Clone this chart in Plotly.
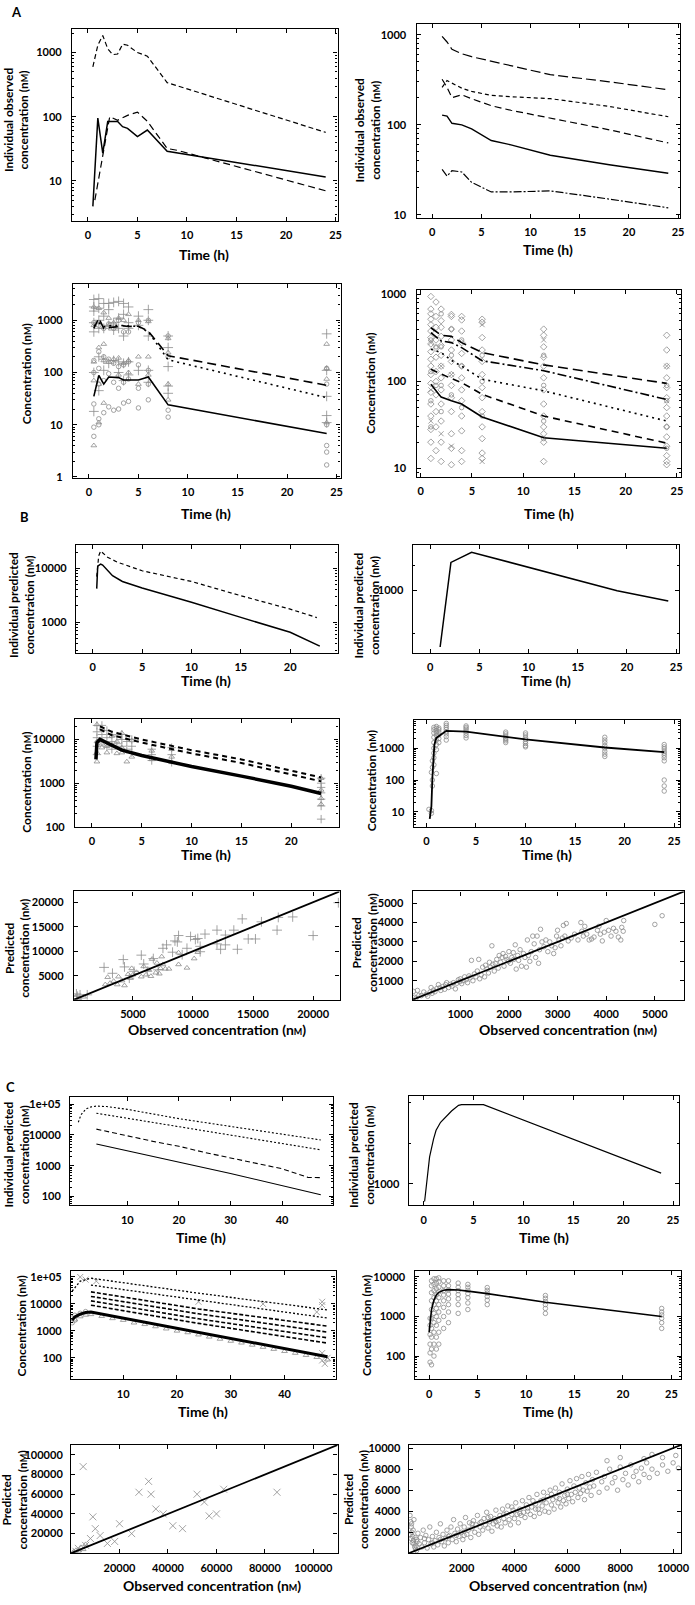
import plotly.graph_objects as go

# ---------------- data ----------------
# A, top left: individual observed profiles
a1_t_top = [0.5, 1.0, 1.5, 2.0, 2.5, 3.0, 3.5, 4.0, 5.0, 6.0, 8.0, 24.0]
a1_c_top = [600, 1300, 1850, 1150, 930, 950, 1350, 1300, 1000, 880, 340, 57]
a1_t_solid = [0.5, 1.0, 1.5, 2.0, 2.5, 3.0, 3.5, 4.0, 5.0, 6.0, 8.0, 24.0]
a1_c_solid = [4, 95, 27, 84, 84, 84, 70, 66, 49, 62, 29, 11.5]
a1_t_dash = [0.7, 2.2, 3.0, 4.0, 5.0, 6.0, 8.0, 9.0, 24.0]
a1_c_dash = [5, 100, 88, 105, 118, 85, 32, 30, 7]

# A, top right
a2_t = [1, 1.5, 2, 3, 4, 6, 8, 12, 18, 24]
a2_ldash = [960, 830, 690, 615, 570, 510, 455, 360, 300, 245]
a2_sdash = [260, 310, 290, 255, 235, 212, 205, 195, 160, 123]
a2_dash = [320, 260, 200, 215, 195, 163, 145, 118, 88, 63]
a2_solid = [128, 125, 104, 100, 90, 67, 60, 46, 36, 29]
a2_ddot = [32, 27, 31, 30, 23, 18, 18, 18.5, 15, 12]

# A, bottom left: observed points + predictions
a3_times = [0.5, 1, 1.5, 2, 2.5, 3, 3.5, 4, 5, 6, 8, 24]
a3_plus = [[2500, 1800, 1500, 900, 600, 100, 18], [2600, 1700, 1000, 700, 200, 45],
           [2100, 1200, 700, 180, 110], [2100, 1600, 800, 150], [2200, 900, 650, 170],
           [2300, 1100, 700, 160, 100], [2100, 1300, 500, 150, 70], [1800, 900, 700, 160, 90],
           [1200, 800, 110], [1600, 1000, 500, 110, 65], [500, 300, 130, 55, 40],
           [550, 110, 35, 15, 11]]
a3_tri = [[1800, 800, 160, 70, 4], [1700, 300, 60, 11], [1400, 350, 170, 26], [1100, 800, 160],
          [900, 180], [1100, 190, 90], [1000, 150], [1300, 170, 100], [1000, 200, 60],
          [950, 200, 90], [450, 240, 60, 30], [350, 120, 75, 11]]
a3_circ = [[900, 170, 100, 25, 9, 6], [800, 250, 120, 60, 13, 10], [700, 200, 70, 17],
           [850, 180, 95, 22], [700, 150, 65, 19], [1000, 130, 50, 20], [600, 140, 65, 26],
           [600, 160, 75, 28], [900, 140, 50, 21], [1000, 110, 60, 30], [500, 200, 19, 14],
           [120, 60, 10, 4, 3, 1.7]]
a3_t = [0.5, 1, 1.5, 2, 3, 3.5, 4, 5, 6, 8, 24]
a3_solid = [35, 88, 60, 82, 80, 72, 72, 72, 82, 24, 6.8]
a3_ldash = [700, 1100, 700, 720, 780, 780, 760, 770, 620, 210, 57]
a3_dot = [780, 900, 750, 780, 800, 790, 780, 760, 600, 175, 33]

# A, bottom right
a4_times = [1, 1.5, 2, 3, 4, 6, 12, 24]
a4_diam = [[950, 680, 600, 520, 450, 380, 320, 270, 220, 180, 150, 120, 95, 75, 55, 40, 28, 20, 13],
           [820, 560, 420, 300, 240, 190, 130, 100, 70, 45, 30, 16],
           [680, 500, 420, 330, 260, 200, 150, 110, 80, 55, 35, 20, 12],
           [590, 560, 400, 300, 230, 170, 120, 90, 65, 45, 25, 17, 11],
           [560, 510, 380, 280, 210, 150, 110, 80, 60, 40, 27, 16, 12],
           [520, 480, 320, 230, 170, 120, 85, 65, 45, 30, 22, 15, 13],
           [400, 340, 250, 190, 150, 110, 80, 55, 40, 30, 25, 20, 12],
           [340, 230, 150, 110, 85, 65, 50, 40, 30, 23, 18, 14, 12, 11]]
a4_circ = [[300, 130, 60, 30], [250, 90], [600, 250, 90, 45], [400, 200, 70], [300, 150, 50],
           [200, 100, 40], [200, 90, 35, 22], [90, 60, 30, 17]]
a4_x = [[35, 80, 280], [], [25, 150], [18, 120], [], [450, 12], [300], [150, 60]]
a4_t = [1, 2, 3, 4, 6, 12, 24]
a4_ldash = [415, 340, 330, 280, 215, 155, 95]
a4_ddot = [365, 292, 280, 245, 173, 133, 62]
a4_dot = [235, 215, 175, 150, 106, 78, 35]
a4_dash = [138, 121, 108, 97, 71, 40, 19.5]
a4_solid = [93, 66, 60, 55, 39, 22.5, 17]

# B
b1_t_solid = [0.4, 0.45, 0.5, 0.8, 1.0, 2.0, 3.0, 5.0, 10.0, 15.0, 20.0, 23.0]
b1_c_solid = [4200, 9000, 11000, 12000, 11500, 7300, 5700, 4300, 2350, 1230, 650, 360]
b1_t_dash = [0.4, 0.6, 0.8, 1.5, 2.5, 5.0, 10.0, 15.0, 20.0, 22.7]
b1_c_dash = [7000, 17000, 21000, 16000, 13000, 9000, 5700, 3100, 1750, 1220]

b2_t = [1.0, 2.1, 4.2, 19.0, 24.2]
b2_c = [205, 2180, 2900, 990, 740]

b3_times = [0.5, 1, 1.5, 2, 2.5, 3, 3.5, 4, 6, 8, 23]
b3_tri = [[22000, 9000, 5000, 3100], [18000, 8000, 6500], [5000, 7000], [12000, 7500],
          [4800, 9000], [14000, 6500, 5000], [3100], [4000, 9500], [3500, 5500],
          [3000, 4000, 6000], [700, 450, 330, 1300]]
b3_plus = [[21000, 15000, 11000, 7000, 4500], [21000, 13000, 9000], [16000, 11000, 7000],
           [13000, 9000, 6000], [12000, 8000], [13000, 10000, 7000], [9000, 6000],
           [10000, 7000, 5000], [6000, 4500, 3300], [6500, 4500, 3000],
           [1300, 1000, 800, 600, 430, 300, 150]]
b3_t_solid = [0.4, 0.5, 0.8, 1, 2, 3, 5, 8, 10, 15, 20, 23]
b3_c_solid = [3500, 8500, 10000, 9500, 7000, 5700, 4300, 3000, 2400, 1450, 850, 580]
b3_t_dash = [0.8, 2, 5, 10, 15, 20, 23]
b3_c_dash1 = [20000, 15000, 10000, 5700, 3500, 1900, 1350]
b3_c_dash2 = [17000, 12500, 8500, 4800, 2900, 1600, 1100]

b4_times = [0.25, 0.5, 0.6, 0.75, 1, 1.25, 2, 4, 8, 10, 18, 24]
b4_circ = [[12], [175, 11, 9], [100, 65, 250, 400],
           [4500, 3800, 3000, 2200, 1500, 1000, 700, 500, 300],
           [4800, 4200, 3500, 3000, 2500, 1800, 1300, 900, 160],
           [4300, 3800, 3200, 2600, 2000, 1500],
           [6000, 5200, 4500, 3900, 3300, 2800, 2300, 1800],
           [5000, 4500, 4000, 3500, 3000, 2500, 2100],
           [3200, 2800, 2400, 2100, 1900, 1700, 1500],
           [3000, 2600, 2200, 1900, 1600, 1400, 1200, 1100],
           [2200, 1800, 1500, 1200, 1000, 800, 650, 550],
           [1300, 1100, 950, 800, 700, 600, 500, 400, 100, 65, 45]]
b4_t = [0.33, 0.5, 0.6, 0.7, 0.8, 1, 1.5, 2, 4, 8, 10, 18, 24]
b4_c = [6, 15, 120, 500, 1300, 2100, 2700, 3500, 3300, 2300, 1900, 1050, 750]

b5_plus_obs = [2600, 4200, 4300, 5700, 5900, 6700, 7100, 7500, 7800, 8300,
               8500, 8700, 8800, 9500, 9800, 10200, 10400, 10600, 11000, 12000,
               12000, 12300, 12700, 12700, 13400, 13700, 14100, 14600, 15200, 15700,
               17000, 17100, 18300, 20000, 22100, 9100, 10600, 3300, 4700, 5100,
               6200, 400, 600, 300, 1200]
b5_plus_pred = [6700, 8300, 6800, 9200, 7400, 8500, 6200, 10600, 11300, 9800,
                12100, 11900, 13200, 10600, 13000, 12400, 12600, 11000, 13500, 14300,
                11500, 10400, 13300, 11300, 14300, 10400, 16600, 12500, 12500, 16000,
                14300, 16900, 17000, 13200, 19900, 9300, 9900, 5500, 4500, 5900,
                5900, 800, 1100, 1300, 1100]
b5_tri_obs = [2700, 2900, 3100, 3400, 3700, 3800, 4100, 4300, 4600, 4800,
              4900, 5000, 5300, 5700, 5900, 6100, 6300, 6500, 6600, 6900,
              7000, 7200, 7300, 7500, 7700, 7400, 8000, 8800, 8800, 9500,
              10100, 10400, 200, 500, 900]
b5_tri_pred = [3200, 4700, 3500, 3900, 3200, 4800, 4000, 3000, 5300, 4500,
               6500, 5200, 5700, 4800, 6900, 5200, 6300, 4900, 8400, 5600,
               7600, 5400, 6500, 7300, 6400, 8900, 6400, 7300, 9700, 6600,
               8500, 9800, 600, 400, 700]

b6_obs = [40, 60, 90, 120, 150, 200, 250, 300, 330, 380,
          400, 420, 450, 480, 520, 550, 580, 600, 640, 680,
          700, 720, 760, 800, 830, 860, 900, 930, 960, 990,
          1000, 1030, 1060, 1090, 1120, 1150, 1180, 1200, 1230, 1260,
          1290, 1320, 1350, 1380, 1400, 1430, 1460, 1500, 1520, 1550,
          1580, 1600, 1620, 1650, 1670, 1700, 1720, 1750, 1780, 1800,
          1830, 1860, 1880, 1900, 1930, 1960, 1990, 2000, 2030, 2060,
          2090, 2100, 2130, 2150, 2180, 2200, 2230, 2260, 2300, 2330,
          2360, 2380, 2400, 2430, 2460, 2490, 2520, 2550, 2580, 2610,
          2630, 2650, 2680, 2720, 2760, 2800, 2840, 2880, 2920, 2950,
          2980, 3000, 3030, 3070, 3100, 3120, 3150, 3180, 3220, 3280,
          3350, 3420, 3480, 3500, 3530, 3560, 3600, 3650, 3700, 3750,
          3820, 3850, 3880, 3920, 3960, 4000, 4050, 4100, 4150, 4200,
          4250, 4300, 4320, 4350, 4360, 5000, 5150]
b6_pred = [450, 150, 100, 500, 250, 230, 420, 300, 200, 420,
           650, 350, 520, 430, 600, 800, 640, 500, 700, 560,
           800, 900, 650, 820, 720, 900, 580, 870, 1050, 950,
           1100, 850, 1000, 1200, 1050, 900, 1250, 1150, 2050, 1000,
           1350, 1200, 1500, 2100, 1100, 1300, 1700, 1200, 1800, 1600,
           1400, 1950, 1700, 2800, 1850, 1500, 1900, 2100, 1650, 2300,
           1950, 2200, 2400, 1750, 2250, 2100, 2000, 2500, 1900, 2200,
           2450, 2100, 2850, 1600, 2300, 2050, 2600, 1750, 2400, 2200,
           1700, 3100, 2300, 2000, 2500, 3300, 2900, 2200, 3300, 1900,
           2600, 3650, 3000, 2750, 3100, 2500, 3000, 2800, 2400, 2700,
           3300, 3600, 3100, 2800, 3200, 3850, 3300, 3950, 3050, 3200,
           3400, 3100, 4000, 3550, 3300, 3800, 3400, 3100, 3150, 3250,
           3600, 3800, 3400, 3050, 3500, 4100, 3600, 3300, 3700, 3550,
           3250, 3100, 3750, 3550, 4100, 3900, 4350]

# C
c1_t_dot1 = [0.5, 1, 2, 3, 4, 6, 10, 15, 20, 30, 40, 47.5]
c1_c_dot1 = [26000, 45000, 70000, 82000, 87000, 84000, 68000, 47000, 34000, 19000, 10700, 6900]
c1_t_dot2 = [4, 10, 15, 20, 30, 40, 47.5]
c1_c_dot2 = [51000, 35000, 26000, 19000, 10000, 5400, 3300]
c1_t_dash = [4, 10, 15, 20, 25, 30, 35, 40, 45, 47.5]
c1_c_dash = [15500, 9300, 6200, 4300, 2700, 1800, 1200, 800, 420, 410]
c1_t_solid = [4, 20, 30, 47.5]
c1_c_solid = [5100, 1300, 560, 115]

c2_t = [0.1, 0.3, 0.6, 1.0, 1.25, 1.7, 2.2, 2.8, 3.5, 3.8, 6.0, 23.8]
c2_c = [740, 1050, 1580, 2150, 2490, 2850, 3100, 3450, 3800, 3850, 3850, 1200]

c3_t_solid = [0.5, 1, 2, 3, 4, 6, 8, 12, 16, 20, 24, 30, 36, 42, 48]
c3_c_solid = [2500, 3300, 4200, 4800, 5000, 4200, 3500, 2470, 1740, 1220, 860, 510, 300, 177, 110]
c3_t_tri = [1, 2, 3, 4, 6, 8, 10, 12, 14, 16, 18, 20, 22, 24, 26, 28, 30, 32, 34, 36, 38, 40, 42, 44, 46, 48]
c3_c_tri = [2600, 3400, 3900, 4100, 3500, 2900, 2500, 2000, 1750, 1450, 1200, 1000, 870, 720,
            600, 500, 420, 360, 300, 250, 210, 175, 150, 125, 105, 85]
c3_t_dash = [4, 24, 48]
c3_c_dash = [[9000, 1900, 350], [13000, 2800, 550], [19000, 4300, 900], [28000, 6500, 1500]]
c3_t_dot1 = [0.5, 2, 4, 24, 48]
c3_c_dot1 = [30000, 70000, 90000, 25000, 6000]
c3_t_dot2 = [4, 24, 48]
c3_c_dot2 = [50000, 14000, 3000]
c3_x_t = [2, 3, 5, 24, 36, 47, 47, 46, 47, 47.5, 48, 47]
c3_x_c = [100000, 80000, 70000, 12000, 10000, 12000, 9000, 5000, 80, 60, 100, 150]
c3_circ_t = [0.5, 0.5, 1, 1, 2, 3]
c3_circ_c = [3000, 2000, 3800, 2500, 4500, 5200]

c4_times = [0.1, 0.25, 0.5, 0.75, 1, 1.5, 2, 3, 4, 6, 12, 24]
c4_circ = [[70, 120, 200, 350, 600, 900],
           [60, 150, 300, 500, 900, 1500, 2500, 4000, 6000, 8000],
           [100, 200, 400, 700, 1200, 2000, 3000, 4500, 6500, 9000],
           [150, 300, 600, 1000, 1600, 2500, 3500, 5000, 7000, 9000],
           [200, 400, 800, 1300, 2000, 3000, 4200, 5500, 7500, 9500],
           [500, 1000, 1700, 2500, 3500, 4500, 6000, 8000],
           [700, 1300, 2000, 2800, 3700, 4700, 6000, 8000],
           [1200, 2000, 2800, 3600, 4500, 5500, 7000],
           [1500, 2200, 3000, 3800, 4600, 5500, 6500],
           [2000, 2600, 3200, 3900, 4600, 5400],
           [1200, 1600, 2000, 2400, 2900, 3400],
           [500, 700, 900, 1100, 1300, 1600]]
c4_t = [0, 0.25, 0.5, 0.75, 1, 1.5, 2, 3, 4, 6, 12, 24]
c4_c = [400, 1500, 2600, 3500, 4100, 4600, 4800, 4700, 4400, 3800, 2300, 1000]

c5_x_obs = [5000, 18000, 20000, 25000, 28000, 32000, 33000, 35000, 38000, 42000,
            46000, 52000, 55000, 57000, 60000, 63000, 85000, 10000, 12000, 15000,
            8000, 6000, 3000, 2000, 9000]
c5_x_pred = [88000, 12000, 30000, 20000, 62000, 73000, 60000, 45000, 40000, 28000,
             25000, 60000, 52000, 38000, 40000, 65000, 62000, 25000, 18000, 10000,
             15000, 8000, 5000, 2000, 37000]
c5_tri_obs = [1000, 2000, 3000, 4000, 5000, 6000]
c5_tri_pred = [1500, 3000, 2500, 6000, 4000, 9000]

c6_obs = [50, 80, 100, 120, 150, 180, 200, 230, 260, 300,
          60, 90, 110, 140, 170, 200, 250, 280, 320, 350,
          400, 450, 500, 550, 600, 650, 700, 750, 800, 850,
          900, 950, 1000, 1050, 1100, 1150, 1200, 1250, 1300, 1350,
          1400, 1450, 1500, 1550, 1600, 1650, 1700, 1750, 1800, 1850,
          1900, 1950, 2000, 2050, 2100, 2150, 2200, 2250, 2300, 2350,
          2400, 2450, 2500, 2550, 2600, 2650, 2700, 2750, 2800, 2850,
          2900, 2950, 3000, 3050, 3100, 3150, 3200, 3250, 3300, 3350,
          3400, 3450, 3500, 3550, 3600, 3650, 3700, 3750, 3800, 3850,
          3900, 3950, 4000, 4050, 4100, 4150, 4200, 4250, 4300, 4350,
          4400, 4450, 4500, 4550, 4600, 4650, 4700, 4750, 4800, 4850,
          4900, 4950, 5000, 5050, 5100, 5150, 5200, 5250, 5300, 5350,
          5400, 5450, 5500, 5550, 5600, 5650, 5700, 5750, 5800, 5850,
          5900, 5950, 6000, 6050, 6100, 6150, 6200, 6250, 6300, 6350,
          6400, 6450, 6500, 6550, 6600, 6650, 6700, 6750, 6800, 6850,
          6900, 6950, 7000, 7100, 7200, 7300, 7400, 7500, 7600, 7700,
          7800, 7900, 8000, 8100, 8200, 8300, 8400, 8500, 8600, 8700,
          8800, 8900, 9000, 9100, 9200, 9400, 9600, 9800, 10000, 10200,
          300, 600, 900, 1200, 1500, 1800, 2100, 2400, 2700, 3000,
          3300, 3600, 3900, 4200, 4500, 4800, 5100, 5400, 5700, 6000,
          8900, 9200, 9600, 10100, 7500, 8000]
c6_pred = [3600, 3000, 2500, 2000, 1600, 1200, 900, 600, 400, 250,
           1800, 1400, 2800, 1000, 2200, 3200, 1500, 700, 1100, 1900,
           900, 1500, 600, 2200, 1000, 1700, 500, 1300, 2500, 900,
           1600, 600, 1200, 2000, 800, 1500, 2800, 1100, 1800, 700,
           1400, 2200, 1000, 1700, 2500, 1300, 3200, 1900, 1100, 2300,
           1600, 2800, 2000, 1300, 2500, 3400, 1800, 2200, 2900, 1500,
           2400, 3100, 2000, 2700, 3600, 1800, 2500, 3000, 2200, 3300,
           2700, 3900, 2400, 3000, 3500, 2100, 2800, 3300, 4100, 2600,
           3100, 3600, 2500, 4200, 3300, 2900, 3800, 4500, 3200, 2700,
           3700, 4100, 3300, 4800, 3700, 2900, 4200, 3600, 5000, 3900,
           3400, 4600, 4000, 5300, 3700, 4400, 5000, 3500, 4700, 5600,
           4200, 3800, 5000, 4500, 5800, 4000, 4800, 5400, 3900, 6000,
           4600, 5100, 4200, 6200, 5300, 4800, 5800, 4400, 6600, 5000,
           5500, 4700, 6100, 5200, 6900, 5600, 4900, 6400, 5800, 7100,
           5300, 6200, 5700, 7300, 6000, 5100, 6700, 5900, 7500, 6300,
           5500, 7000, 6400, 7700, 5800, 6800, 7300, 6200, 8000, 6700,
           7200, 6000, 8200, 7000, 7600, 6500, 8400, 7300, 7800, 6800,
           8100, 7500, 8600, 7200, 8000, 7600, 8400, 7800, 8600, 8100,
           1300, 1400, 1000, 1300, 1600, 1700, 1700, 2800, 2900, 3400,
           3000, 3700, 4400, 3800, 4300, 4200, 5100, 5600, 5200, 5600,
           9000, 9400, 9100, 9300, 8800, 9100]

identity_b5 = [0, 23000]
identity_b6 = [0, 6000]
identity_c5 = [0, 115000]
identity_c6 = [0, 11000]

# ---------------- figure ----------------
W, H = 695, 1605
FONT = "Lato"
GRAY = "#8c8c8c"
NM = "n<span style='font-size:9px'>M</span>"

fig = go.Figure()
notes = []


def sfx(i):
    return "" if i == 1 else str(i)


def minor_log(lo, hi):
    out = []
    for d in range(int(lo) - 1, int(hi) + 2):
        for k in range(2, 10):
            out.append(k * 10 ** d)
    return out


def label(v):
    return str(int(v)) if v >= 1 else str(v)


def panel(i, box, xr, yr, xt, yt, ylog=True, ytext=None, yminor=None, ystand=7):
    l, t, r, b = box
    tickfont = dict(family=FONT, size=11, color="black", weight="bold")
    common = dict(showline=True, linecolor="black", linewidth=1.2, mirror="allticks",
                  ticks="inside", ticklen=4, tickwidth=1, tickcolor="black",
                  showgrid=False, zeroline=False, tickfont=tickfont, tickmode="array",
                  ticklabeloverflow="allow")
    xa = dict(common, domain=[l / W, r / W], range=xr, tickvals=xt,
              ticktext=[label(v) for v in xt], anchor="y" + sfx(i), ticklabelstandoff=4)
    ya = dict(common, domain=[1 - b / H, 1 - t / H], range=yr, tickvals=yt,
              ticktext=ytext if ytext is not None else [label(v) for v in yt],
              anchor="x" + sfx(i), ticklabelstandoff=ystand)
    if ylog:
        ya["type"] = "log"
        ya["minor"] = dict(tickmode="array",
                           tickvals=yminor if yminor is not None else minor_log(*yr),
                           ticks="inside", ticklen=2, tickcolor="black")
    fig.update_layout(**{"xaxis" + sfx(i): xa, "yaxis" + sfx(i): ya})


def line(i, x, y, dash="solid", width=1.4):
    fig.add_trace(go.Scatter(x=x, y=y, mode="lines", xaxis="x" + sfx(i), yaxis="y" + sfx(i),
                             line=dict(color="black", width=width, dash=dash), hoverinfo="skip"))


def pts(i, x, y, symbol, size=5, color=GRAY):
    fig.add_trace(go.Scatter(x=x, y=y, mode="markers", xaxis="x" + sfx(i), yaxis="y" + sfx(i),
                             marker=dict(symbol=symbol, size=size, color=color,
                                         line=dict(color=color, width=0.8)), hoverinfo="skip"))


def flat(times, groups):
    xs, ys = [], []
    for tt, g in zip(times, groups):
        xs += [tt] * len(g)
        ys += list(g)
    return xs, ys


def ytitle(text, x, y):
    notes.append(dict(text=text, x=x / W, y=1 - y / H, xref="paper", yref="paper",
                      xanchor="center", yanchor="middle", showarrow=False, textangle=-90,
                      font=dict(family=FONT, size=12, color="black", weight="bold")))


def xtitle(text, x, y):
    notes.append(dict(text=text, x=x / W, y=1 - y / H, xref="paper", yref="paper",
                      xanchor="center", yanchor="middle", showarrow=False,
                      font=dict(family=FONT, size=14, color="black", weight="bold")))


t25 = [0, 5, 10, 15, 20, 25]
t20 = [0, 5, 10, 15, 20]
t40 = [10, 20, 30, 40]

# A1
panel(1, (73, 25, 342, 218), [-1.6, 25.2], [0.38, 3.37], t25, [10, 100, 1000])
line(1, a1_t_top, a1_c_top, "5px,3px", 1.2)
line(1, a1_t_dash, a1_c_dash, "7px,4px", 1.2)
line(1, a1_t_solid, a1_c_solid, "solid", 1.5)
# A2
panel(2, (422, 20, 689, 215), [-1.6, 25.2], [0.97, 3.12], t25, [10, 100, 1000])
line(2, a2_t, a2_ldash, "10px,4px", 1.2)
line(2, a2_t, a2_sdash, "4px,3px", 1.2)
line(2, a2_t, a2_dash, "7px,4px", 1.2)
line(2, a2_t, a2_solid, "solid", 1.4)
line(2, a2_t, a2_ddot, "8px,2px,2px,2px", 1.2)
# A3
panel(3, (74, 282, 345, 477), [-1.6, 25.4], [-0.02, 3.69], t25, [1, 10, 100, 1000])
x, y = flat(a3_times, a3_plus)
pts(3, x, y, "cross-thin-open", 7)
x, y = flat(a3_times, a3_tri)
pts(3, x, y, "triangle-up-open", 5)
x, y = flat(a3_times, a3_circ)
pts(3, x, y, "circle-open", 4.5)
line(3, a3_t, a3_solid, "solid", 1.6)
line(3, a3_t, a3_ldash, "9px,5px", 1.6)
line(3, a3_t, a3_dot, "2px,4px", 1.6)
# A4
panel(4, (422, 288, 690, 476), [-0.4, 25.4], [0.9, 3.05], t25, [10, 100, 1000])
x, y = flat(a4_times, a4_diam)
pts(4, x, y, "diamond-open", 5)
x, y = flat(a4_times, a4_circ)
pts(4, x, y, "circle-open", 4.5)
x, y = flat(a4_times, a4_x)
pts(4, x, y, "x-thin-open", 5)
line(4, a4_t, a4_ldash, "10px,5px", 1.6)
line(4, a4_t, a4_ddot, "9px,3px,2px,3px", 1.6)
line(4, a4_t, a4_dot, "2px,4px", 1.6)
line(4, a4_t, a4_dash, "7px,5px", 1.6)
line(4, a4_t, a4_solid, "solid", 1.6)
# B1
panel(5, (77, 544, 342, 653), [-1.7, 24.8], [2.43, 4.44], t20, [1000, 10000], ystand=6)
line(5, b1_t_dash, b1_c_dash, "4px,3px", 1.2)
line(5, b1_t_solid, b1_c_solid, "solid", 1.5)
# B2
panel(6, (418, 544, 688, 653), [-1.8, 25.3], [2.24, 3.555], t25, [1000], yminor=[300, 2000], ystand=6)
line(6, b2_t, b2_c, "solid", 1.5)
# B3
panel(7, (76, 719, 343, 828), [-1.7, 24.75], [2, 4.48], t20, [100, 1000, 10000])
x, y = flat(b3_times, b3_tri)
pts(7, x, y, "triangle-up-open", 5)
x, y = flat(b3_times, b3_plus)
pts(7, x, y, "cross-thin-open", 6)
line(7, b3_t_dash, b3_c_dash1, "5px,4px", 2)
line(7, b3_t_dash, b3_c_dash2, "5px,4px", 2)
line(7, b3_t_solid, b3_c_solid, "solid", 3.5)
# B4
panel(8, (419, 720, 689, 828), [-1.3, 25.6], [0.53, 3.9], t25, [10, 100, 1000], ystand=6)
x, y = flat(b4_times, b4_circ)
pts(8, x, y, "circle-open", 4.5)
line(8, b4_t, b4_c, "solid", 1.8)
# B5
panel(9, (75, 893, 344, 1002), [100, 22200], [100, 22200],
      [5000, 10000, 15000, 20000], [5000, 10000, 15000, 20000], ylog=False)
pts(9, b5_plus_obs, b5_plus_pred, "cross-thin-open", 7)
pts(9, b5_tri_obs, b5_tri_pred, "triangle-up-open", 5)
line(9, identity_b5, identity_b5, "solid", 1.8)
# B6
panel(10, (418, 893, 693, 1002), [20, 5600], [20, 5600],
      [1000, 2000, 3000, 4000, 5000], [1000, 2000, 3000, 4000, 5000], ylog=False, ystand=6)
pts(10, b6_obs, b6_pred, "circle-open", 4.5)
line(10, identity_b6, identity_b6, "solid", 1.8)
# C1
c_ytv = [100, 1000, 10000, 100000]
c_ytt = ["100", "1000", "10000", "1e+05"]
panel(11, (71, 1100, 337, 1209), [-1.1, 49.8], [1.71, 5.23], t40, c_ytv, ytext=c_ytt, ystand=6)
line(11, c1_t_dot1, c1_c_dot1, "2px,2px", 1.1)
line(11, c1_t_dot2, c1_c_dot2, "2px,2px", 1.1)
line(11, c1_t_dash, c1_c_dash, "5px,3px", 1.1)
line(11, c1_t_solid, c1_c_solid, "solid", 1.1)
# C2
panel(12, (414, 1099, 688, 1209), [-1.5, 25.6], [2.84, 3.648], t25, [1000], yminor=[2000, 4000], ystand=6)
line(12, c2_t, c2_c, "solid", 1.2)
# C3
panel(13, (72, 1275, 340, 1384), [0.3, 49.5], [1.2, 5.22], t40, c_ytv, ytext=c_ytt, ystand=6)
pts(13, c3_t_tri, c3_c_tri, "triangle-up-open", 5)
pts(13, c3_x_t, c3_x_c, "x-thin-open", 6)
pts(13, c3_circ_t, c3_circ_c, "circle-open", 4.5)
for vals in c3_c_dash:
    line(13, c3_t_dash, vals, "4px,2px", 1.6)
line(13, c3_t_dot1, c3_c_dot1, "2px,2px", 1.3)
line(13, c3_t_dot2, c3_c_dot2, "2px,2px", 1.3)
line(13, c3_t_solid, c3_c_solid, "solid", 3)
# C4
panel(14, (420, 1275, 690, 1384), [-1.5, 26], [1.41, 4.15], t25, [100, 1000, 10000], ystand=6)
x, y = flat(c4_times, c4_circ)
pts(14, x, y, "circle-open", 4.5)
line(14, c4_t, c4_c, "solid", 1.6)
# C5
c5_ticks = [20000, 40000, 60000, 80000, 100000]
panel(15, (72, 1450, 342, 1559), [0, 110000], [0, 110000], c5_ticks, c5_ticks, ylog=False, ystand=5)
pts(15, c5_x_obs, c5_x_pred, "x-thin-open", 7)
pts(15, c5_tri_obs, c5_tri_pred, "triangle-up-open", 5)
line(15, identity_c5, identity_c5, "solid", 1.8)
# C6
c6_ticks = [2000, 4000, 6000, 8000, 10000]
panel(16, (414, 1450, 690, 1559), [0, 10300], [0, 10300], c6_ticks, c6_ticks, ylog=False, ystand=5)
pts(16, c6_obs, c6_pred, "circle-open", 4.5)
line(16, identity_c6, identity_c6, "solid", 1.8)

# axis titles
ytitle("Individual observed<br>concentration (" + NM + ")", 16, 117)
ytitle("Individual observed<br>concentration (" + NM + ")", 372, 127)
ytitle("Concentration (" + NM + ")", 27, 372)
ytitle("Concentration (" + NM + ")", 375, 382)
ytitle("Individual predicted<br>concentration (" + NM + ")", 22, 605)
ytitle("Individual predicted<br>concentration (" + NM + ")", 371, 605)
ytitle("Concentration (" + NM + ")", 26, 783)
ytitle("Concentration (" + NM + ")", 376, 782)
ytitle("Predicted<br>concentration (" + NM + ")", 17, 950)
ytitle("Predicted<br>concentration (" + NM + ")", 369, 945)
ytitle("Individual predicted<br>concentration (" + NM + ")", 17, 1158)
ytitle("Individual predicted<br>concentration (" + NM + ")", 367, 1158)
ytitle("Concentration (" + NM + ")", 22, 1330)
ytitle("Concentration (" + NM + ")", 372, 1330)
ytitle("Predicted<br>concentration (" + NM + ")", 15, 1505)
ytitle("Predicted<br>concentration (" + NM + ")", 361, 1505)

xtitle("Time (h)", 207, 252)
xtitle("Time (h)", 555, 247)
xtitle("Time (h)", 209, 513)
xtitle("Time (h)", 556, 513)
xtitle("Time (h)", 209, 681)
xtitle("Time (h)", 553, 681)
xtitle("Time (h)", 209, 856)
xtitle("Time (h)", 554, 856)
xtitle("Observed concentration (" + NM + ")", 220, 1032)
xtitle("Observed concentration (" + NM + ")", 575, 1032)
xtitle("Time (h)", 204, 1241)
xtitle("Time (h)", 551, 1241)
xtitle("Time (h)", 206, 1416)
xtitle("Time (h)", 555, 1416)
xtitle("Observed concentration (" + NM + ")", 215, 1591)
xtitle("Observed concentration (" + NM + ")", 565, 1591)

for letter, px, py in [("A", 17, 8), ("B", 25, 516), ("C", 11, 1090)]:
    notes.append(dict(text=letter, x=px / W, y=1 - py / H, xref="paper", yref="paper",
                      xanchor="center", yanchor="middle", showarrow=False,
                      font=dict(family=FONT, size=13, color="black", weight="bold")))

fig.update_layout(width=W, height=H, margin=dict(l=0, r=0, t=0, b=0),
                  paper_bgcolor="white", plot_bgcolor="white", showlegend=False,
                  annotations=notes)

# drop the browser's default page margin so the figure sits at the top-left corner
fig.write_html("out.html", config={"displayModeBar": False},
               post_script="document.body.style.margin='0px';")
